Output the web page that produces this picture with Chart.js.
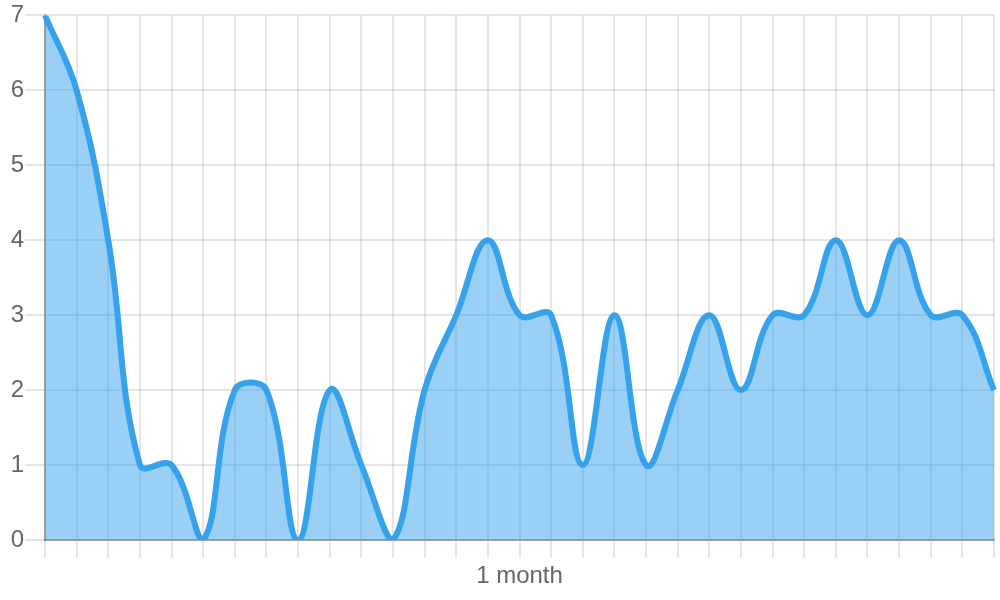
<!DOCTYPE html>
<html>
<head>
<meta charset="utf-8">
<script src="https://cdn.jsdelivr.net/npm/chart.js@4/dist/chart.umd.min.js"></script>
<style>
  html, body { margin: 0; padding: 0; background: #fff; }
  #wrap { width: 1000px; height: 600px; }
</style>
</head>
<body>
<div id="wrap"><canvas id="c" width="1000" height="600"></canvas></div>
<script>
// Categories (31 days); only the middle tick carries a label
const categories = ['', '', '', '', '', '', '', '', '', '', '', '', '', '', '', '1 month',
                    '', '', '', '', '', '', '', '', '', '', '', '', '', '', ''];
// Series values
const seriesValues = [7, 6, 4, 1, 1, 0, 2, 2, 0, 2, 1, 0, 2, 3, 4, 3, 3, 1, 3, 1, 2, 3, 2, 3, 3, 4, 3, 4, 3, 3, 2];
// Y tick labels
const yTicks = [0, 1, 2, 3, 4, 5, 6, 7];

Chart.defaults.font.family = "'Liberation Sans', Arial, sans-serif";
Chart.defaults.font.size = 24;
Chart.defaults.color = '#666';

new Chart(document.getElementById('c'), {
  type: 'line',
  data: {
    labels: categories,
    datasets: [{
      data: seriesValues,
      borderColor: 'rgb(54,162,235)',
      backgroundColor: 'rgba(54,162,235,0.5)',
      borderWidth: 6,
      fill: 'origin',
      tension: 0.4,
      pointRadius: 0,
      pointHoverRadius: 0
    }]
  },
  options: {
    responsive: false,
    devicePixelRatio: 1,
    animation: false,
    layout: { padding: { left: 0, right: 6, top: 0, bottom: 0 } },
    plugins: { legend: { display: false }, tooltip: { enabled: false } },
    scales: {
      x: {
        grid: { color: 'rgba(0,0,0,0.1)', lineWidth: 2, tickLength: 18 },
        border: { color: 'rgba(0,0,0,0.3)', width: 2 },
        ticks: { autoSkip: false, maxRotation: 0, padding: 4, font: { size: 24 } },
        afterFit: s => { s.height = 60; }
      },
      y: {
        min: yTicks[0],
        max: yTicks[yTicks.length - 1],
        afterBuildTicks: s => { s.ticks = yTicks.map(v => ({ value: v })); },
        grid: { color: 'rgba(0,0,0,0.1)', lineWidth: 2, tickLength: 20 },
        border: { color: 'rgba(0,0,0,0.3)', width: 2 },
        ticks: { padding: 1, font: { size: 24 } },
        afterFit: s => { s.width = 45; }
      }
    }
  }
});
</script>
</body>
</html>
